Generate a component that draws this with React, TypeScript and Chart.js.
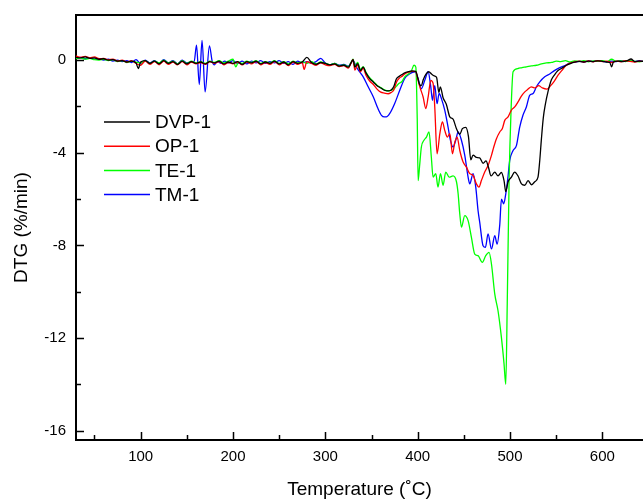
import { useEffect, useRef } from "react";
import { Chart, registerables } from "chart.js";

Chart.register(...registerables);

type Pt = [number, number];

// Temperature (°C) vs. DTG (%/min) readings for each sample
const dvp1: Pt[] = [
  [30, 0.12], [35, 0.1], [40, 0.14], [45, 0.08], [50, 0.1], [55, 0.04], [60, 0.06], [65, 0.0],
  [70, 0.02], [75, -0.04], [80, -0.02], [85, -0.08], [90, -0.04], [95, -0.12], [97.5, -0.36],
  [100, -0.08], [105, -0.02], [110, -0.14], [115, -0.04], [120, -0.16], [125, -0.02], [130, -0.14],
  [135, -0.06], [140, -0.18], [145, -0.04], [150, -0.16], [155, -0.06], [160, -0.14], [165, -0.08],
  [170, -0.16], [175, -0.06], [180, -0.12], [185, -0.04], [190, -0.16], [195, -0.08], [200, -0.14],
  [205, -0.06], [210, -0.18], [215, -0.06], [220, -0.12], [225, -0.04], [230, -0.16], [235, -0.08],
  [240, -0.14], [245, -0.04], [250, -0.16], [255, -0.08], [260, -0.2], [265, -0.06], [270, -0.14],
  [275, -0.08], [280, 0.12], [285, -0.1], [290, -0.18], [295, -0.1], [300, -0.14], [305, -0.2],
  [310, -0.16], [315, -0.26], [320, -0.22], [325, -0.3], [328, -0.1], [330, 0.02], [332, -0.3],
  [335, -0.15], [338, -0.45], [341, -0.3], [344, -0.55], [348, -0.8], [352, -0.95], [356, -1.1],
  [360, -1.2], [364, -1.3], [368, -1.33], [371, -1.3], [374, -1.15], [377, -0.8], [380, -0.7],
  [383, -0.62], [386, -0.55], [390, -0.5], [394, -0.46], [398, -0.48], [400, -0.75], [402, -1.05],
  [404, -1.1], [406, -0.85], [409, -0.6], [412, -0.5], [415, -0.6], [418, -0.68], [420.5, -0.75],
  [423, -1.4], [424.5, -1.15], [427.5, -1.62], [431, -1.9], [434.8, -2.45], [438.3, -2.55],
  [442, -2.96], [445.6, -3.2], [448.4, -2.96], [452, -2.9], [455, -3.3], [457.5, -4.3], [460, -4.1],
  [463.6, -4.2], [467.2, -4.22], [470.8, -4.45], [474, -4.35], [476.5, -4.6], [479.5, -5.0],
  [483.5, -4.83], [487, -5.0], [490.7, -4.85], [493.5, -5.2], [495.4, -5.68], [497.9, -5.25],
  [501.5, -5.05], [505, -4.83], [508.7, -5.0], [512.4, -5.34], [516, -5.4], [519.5, -5.2],
  [523.2, -5.38], [526.8, -5.25], [530.3, -5.05], [532.2, -4.33], [534, -3.4], [536, -2.5],
  [538.3, -1.9], [541.2, -1.35], [544.8, -0.85], [548.4, -0.62], [552, -0.45], [556, -0.35],
  [561, -0.22], [566, -0.14], [570, -0.08], [575, -0.05], [580, -0.08], [585, -0.04], [590, -0.06],
  [595, -0.03], [600, -0.05], [605, -0.08], [608, -0.1], [610, -0.29], [612, -0.08], [617, -0.04],
  [622, -0.06], [627, -0.02], [631, 0.05], [635, -0.06], [640, -0.04], [645, -0.06],
];

const op1: Pt[] = [
  [30, 0.18], [35, 0.12], [40, 0.16], [45, 0.1], [50, 0.14], [55, 0.06], [60, 0.08], [65, 0.02],
  [70, 0.04], [75, -0.04], [80, 0.0], [85, -0.08], [90, -0.02], [95, -0.14], [100, -0.22],
  [105, -0.04], [110, -0.18], [115, -0.06], [120, -0.2], [125, -0.04], [130, -0.18], [135, -0.08],
  [140, -0.2], [145, -0.06], [150, -0.2], [155, -0.08], [160, -0.16], [165, -0.1], [170, -0.18],
  [175, -0.06], [180, -0.14], [185, -0.06], [190, -0.2], [195, -0.1], [200, -0.16], [205, -0.08],
  [210, -0.2], [215, -0.08], [220, -0.16], [225, -0.06], [230, -0.2], [235, -0.1], [240, -0.18],
  [245, -0.06], [250, -0.2], [255, -0.1], [260, -0.24], [265, -0.08], [270, -0.18], [275, -0.1],
  [277, -0.4], [280, -0.06], [285, -0.14], [290, -0.22], [295, -0.12], [300, -0.2], [305, -0.24],
  [310, -0.18], [315, -0.28], [320, -0.24], [325, -0.34], [328, -0.12], [330, 0.02], [332, -0.43],
  [335, -0.2], [338, -0.5], [341, -0.35], [344, -0.65], [348, -0.9], [352, -1.05], [356, -1.25],
  [360, -1.38], [364, -1.42], [368, -1.45], [371, -1.4], [374, -1.3], [377, -0.95], [380, -0.78],
  [383, -0.7], [386, -0.6], [390, -0.52], [394, -0.48], [398, -0.5], [400, -0.8], [402.3, -1.15],
  [405.9, -1.59], [408.8, -2.09], [411.3, -1.6], [414.2, -0.87], [416.7, -1.0], [418.5, -2.02],
  [421, -4.04], [424, -3.17], [426.8, -2.67], [429.3, -3.03], [432.2, -3.32], [434.8, -3.17],
  [437.7, -4.04], [440.2, -3.54], [442.7, -3.32], [445.6, -3.9], [449.2, -4.4], [452.8, -4.62],
  [456.4, -4.9], [460, -4.98], [463.6, -5.34], [466.4, -5.48], [469, -5.2], [472.6, -4.83],
  [476.2, -4.55], [479.9, -4.11], [482.4, -3.75], [485.3, -3.39], [488.9, -3.1], [491.7, -2.95],
  [494.3, -2.6], [497.9, -2.45], [501.5, -2.16], [505.1, -2.02], [508.7, -1.8], [512.3, -1.55],
  [516, -1.37], [519.5, -1.25], [523, -1.15], [527, -1.2], [531, -1.1], [535, -1.2], [540, -1.25],
  [544, -1.1], [548, -0.9], [552, -0.65], [556, -0.45], [561, -0.22], [566, -0.12], [570, -0.08],
  [575, -0.04], [580, -0.08], [585, -0.03], [590, -0.07], [595, -0.02], [600, -0.06], [605, -0.04],
  [610, -0.1], [615, -0.04], [620, -0.07], [625, -0.02], [630, -0.05], [635, -0.08], [640, -0.04],
  [645, -0.06],
];

const te1: Pt[] = [
  [30, 0.06], [35, 0.1], [40, 0.04], [45, 0.08], [50, 0.02], [55, 0.0], [60, 0.04], [65, -0.02],
  [70, 0.02], [75, -0.06], [80, -0.02], [85, -0.1], [90, -0.04], [95, -0.08], [100, -0.12],
  [105, -0.02], [110, -0.14], [115, -0.04], [120, -0.12], [125, 0.0], [130, -0.12], [135, -0.04],
  [140, -0.16], [145, -0.02], [150, -0.14], [155, -0.04], [160, -0.12], [165, -0.06], [170, -0.14],
  [175, -0.04], [180, -0.1], [185, -0.02], [190, -0.12], [195, -0.04], [200, 0.04], [203, -0.29],
  [206, -0.08], [210, -0.14], [215, -0.04], [220, -0.1], [225, -0.02], [230, -0.14], [235, -0.06],
  [240, -0.12], [245, -0.02], [250, -0.14], [255, -0.06], [260, -0.16], [265, -0.04], [270, -0.12],
  [275, -0.06], [280, -0.14], [285, -0.06], [290, -0.16], [295, -0.08], [300, -0.14], [305, -0.2],
  [310, -0.14], [315, -0.24], [320, -0.2], [325, -0.28], [328, -0.08], [330, 0.04], [332, -0.25],
  [335, -0.1], [338, -0.4], [341, -0.28], [344, -0.52], [348, -0.75], [352, -0.92], [356, -1.08],
  [360, -1.18], [364, -1.28], [368, -1.33], [371, -1.3], [374, -1.25], [377, -1.12], [380, -1.0],
  [383, -0.92], [386, -0.72], [390, -0.6], [393.3, -0.45], [396, -0.22], [398, -0.3], [399.5, -2.5],
  [400.5, -5.2], [402, -4.6], [404, -3.75], [407, -3.45], [409.5, -3.32], [412.3, -3.1],
  [414.8, -4.19], [416.7, -5.05], [419.6, -4.9], [422, -5.48], [424.7, -4.9], [427.5, -5.4],
  [430.4, -4.83], [434, -5.05], [438.3, -5.0], [442, -5.25], [443.8, -5.77], [445.6, -6.64],
  [447.4, -7.21], [451, -6.71], [454.6, -6.93], [458.2, -7.65], [461.8, -8.37], [465.4, -8.44],
  [470, -8.73], [473.7, -8.44], [477.3, -8.3], [479.9, -8.8], [483.5, -10.1], [487, -10.82],
  [490.7, -11.98], [493.5, -13.1], [495.4, -14.0], [497, -10.5], [499, -5.2], [501, -2.3],
  [503.3, -0.5], [508.7, -0.36], [513, -0.32], [517.7, -0.29], [523, -0.25], [528.6, -0.22],
  [534, -0.16], [539.4, -0.12], [545, -0.1], [550.2, -0.04], [555, -0.06], [560, -0.02],
  [565, -0.08], [570, -0.03], [575, -0.06], [580, -0.02], [585, -0.07], [590, -0.03], [595, -0.05],
  [600, -0.02], [605, -0.07], [610, 0.04], [615, -0.05], [620, -0.03], [625, -0.06], [630, -0.02],
  [635, -0.05], [640, -0.07], [645, -0.04],
];

const tm1: Pt[] = [
  [30, 0.08], [35, 0.12], [40, 0.06], [45, 0.1], [50, 0.04], [55, 0.06], [60, 0.0], [65, 0.04],
  [70, -0.04], [75, 0.0], [80, -0.06], [85, -0.02], [90, -0.1], [95, 0.02], [100, -0.14],
  [105, 0.0], [110, -0.12], [115, -0.02], [120, -0.14], [125, 0.02], [130, -0.12], [135, -0.02],
  [140, -0.16], [145, 0.0], [150, -0.12], [155, -0.08], [158, -0.05], [160.5, 0.65], [163.5, -1.05],
  [166.5, 0.85], [169.8, -1.37], [174.5, 0.62], [177.5, -0.05], [180, -0.2], [183, -0.05],
  [187, -0.14], [191, -0.04], [195, -0.12], [200, -0.02], [205, -0.14], [210, -0.04], [215, -0.16],
  [220, -0.04], [225, -0.12], [230, -0.02], [235, -0.14], [240, -0.06], [245, -0.12], [250, -0.02],
  [255, -0.14], [260, -0.06], [265, -0.18], [270, -0.04], [275, -0.12], [280, -0.06], [285, -0.14],
  [290, -0.06], [295, 0.08], [300, -0.12], [305, -0.2], [310, -0.14], [315, -0.22], [320, -0.18],
  [325, -0.26], [328, -0.1], [330, -0.02], [333.7, -0.3], [337, -0.5], [341, -0.72], [346.4, -1.15],
  [352, -1.59], [357, -2.09], [360.8, -2.38], [364, -2.45], [366, -2.45], [369.8, -2.3],
  [375, -1.88], [380.6, -1.3], [386, -0.79], [391.5, -0.58], [397, -0.5], [400.5, -0.8],
  [404, -1.23], [407.7, -0.87], [411.3, -0.5], [414.2, -1.15], [416, -1.73], [418.5, -1.1],
  [421, -1.88], [423.2, -1.44], [425.7, -1.66], [429.3, -2.16], [432.9, -2.89], [435.5, -3.46],
  [438.3, -3.75], [441.2, -3.46], [443.8, -3.1], [447.4, -3.46], [451, -4.11], [454.6, -5.05],
  [456.4, -5.34], [460, -4.9], [462.9, -5.48], [465.4, -6.5], [467.2, -7.0], [470.8, -8.01],
  [473.4, -8.08], [476.2, -7.5], [479.9, -8.15], [483.5, -7.58], [486, -7.94], [488.9, -7.1],
  [490.7, -6.0], [493.2, -6.2], [495.4, -5.77], [497.9, -5.0], [499.7, -4.33], [503.3, -3.9],
  [507, -3.68], [510.5, -2.89], [514, -2.38], [517.7, -2.02], [521.3, -1.52], [525, -1.44],
  [528.6, -1.15], [532.2, -0.94], [537.6, -0.72], [543, -0.6], [548, -0.45], [553.8, -0.32],
  [560, -0.22], [565, -0.12], [570, -0.08], [575, -0.05], [580, -0.08], [585, -0.03], [590, -0.06],
  [595, -0.02], [600, -0.05], [605, -0.08], [610, -0.04], [615, -0.06], [620, -0.02], [625, -0.05],
  [630, -0.03], [635, -0.06], [640, -0.02], [645, -0.05],
];

const seriesNames = ["DVP-1", "OP-1", "TE-1", "TM-1"];
const seriesColors = ["#000000", "#ff0000", "#00ff00", "#0000ff"];
const seriesData = [dvp1, op1, te1, tm1];

const xTickValues = [100, 200, 300, 400, 500, 600];
const yTickValues = [0, -4, -8, -12, -16];
const xMinorStep = 50;
const yMinorStep = 2;

const FONT = "'Liberation Sans', Arial, sans-serif";

// Box line along the top, plus inward major/minor tick marks on both axes
const framePlugin = {
  id: "frameTicks",
  afterDraw(chart: any) {
    const { ctx, chartArea: a, scales } = chart;
    const xs = scales.x;
    const ys = scales.y;
    ctx.save();
    ctx.strokeStyle = "#000";
    ctx.lineWidth = 2;
    ctx.beginPath();
    ctx.moveTo(a.left - 1, a.top);
    ctx.lineTo(a.right, a.top);
    ctx.stroke();

    ctx.lineWidth = 1.5;
    ctx.beginPath();
    for (let t = xMinorStep; t <= xs.max; t += xMinorStep) {
      if (t < xs.min) continue;
      const px = Math.round(xs.getPixelForValue(t)) + 0.5;
      const len = t % 100 === 0 ? 8 : 5;
      ctx.moveTo(px, a.bottom);
      ctx.lineTo(px, a.bottom - len);
    }
    for (let v = 0; v >= ys.min; v -= yMinorStep) {
      const py = Math.round(ys.getPixelForValue(v)) + 0.5;
      const len = v % 4 === 0 ? 8 : 5;
      ctx.moveTo(a.left, py);
      ctx.lineTo(a.left + len, py);
    }
    ctx.stroke();
    ctx.restore();
  },
};

// Legend drawn inside the plot area
const legendPlugin = {
  id: "innerLegend",
  afterDraw(chart: any) {
    const { ctx } = chart;
    ctx.save();
    ctx.font = `19px ${FONT}`;
    ctx.textBaseline = "middle";
    ctx.textAlign = "left";
    chart.data.datasets.forEach((ds: any, i: number) => {
      const y = 122 + i * 24.2;
      ctx.strokeStyle = ds.borderColor;
      ctx.lineWidth = 1.5;
      ctx.beginPath();
      ctx.moveTo(104, y);
      ctx.lineTo(150, y);
      ctx.stroke();
      ctx.fillStyle = "#000";
      ctx.fillText(ds.label, 155, y + 1);
    });
    ctx.restore();
  },
};

export default function App() {
  const canvasRef = useRef<HTMLCanvasElement | null>(null);

  useEffect(() => {
    if (!canvasRef.current) return;
    const chart = new Chart(canvasRef.current, {
      type: "line",
      data: {
        datasets: seriesNames.map((name, i) => ({
          label: name,
          data: seriesData[i].map(([x, y]) => ({ x, y })),
          borderColor: seriesColors[i],
          backgroundColor: seriesColors[i],
          borderWidth: 1.3,
          pointRadius: 0,
          cubicInterpolationMode: "monotone" as const,
          fill: false,
        })),
      },
      options: {
        animation: false,
        responsive: true,
        maintainAspectRatio: false,
        layout: { padding: { top: 15, right: 0, left: 0, bottom: 0 } },
        plugins: {
          legend: { display: false },
          tooltip: { enabled: false },
        },
        scales: {
          x: {
            type: "linear",
            position: "bottom",
            min: 30,
            max: 644,
            afterBuildTicks: (scale: any) => {
              scale.ticks = xTickValues.map((v) => ({ value: v }));
            },
            afterFit: (scale: any) => {
              scale.height = 59;
              scale.paddingLeft = 0;
              scale.paddingRight = 0;
            },
            grid: { drawOnChartArea: false, drawTicks: false },
            border: { display: true, color: "#000", width: 2 },
            ticks: {
              color: "#000",
              padding: 8,
              maxRotation: 0,
              font: { family: FONT, size: 15 },
            },
            title: {
              display: true,
              text: "Temperature (˚C)",
              color: "#000",
              padding: { top: 0, bottom: 0 },
              font: { family: FONT, size: 19, lineHeight: 1 },
            },
          },
          y: {
            type: "linear",
            position: "left",
            min: -16.4,
            max: 1.95,
            afterBuildTicks: (scale: any) => {
              scale.ticks = yTickValues.map((v) => ({ value: v }));
            },
            afterFit: (scale: any) => {
              scale.width = 76;
              scale.paddingTop = 0;
              scale.paddingBottom = 0;
            },
            grid: { drawOnChartArea: false, drawTicks: false },
            border: { display: true, color: "#000", width: 2 },
            ticks: {
              color: "#000",
              padding: 10,
              font: { family: FONT, size: 15 },
            },
            title: {
              display: true,
              text: "DTG (%/min)",
              color: "#000",
              padding: { top: 12, bottom: 0 },
              font: { family: FONT, size: 19, lineHeight: 1 },
            },
          },
        },
      },
      plugins: [framePlugin, legendPlugin],
    });
    return () => chart.destroy();
  }, []);

  return (
    <div
      style={{
        position: "fixed",
        left: 0,
        top: 0,
        width: 643,
        height: 499,
        background: "#fff",
        overflow: "hidden",
      }}
    >
      <canvas ref={canvasRef} />
    </div>
  );
}
